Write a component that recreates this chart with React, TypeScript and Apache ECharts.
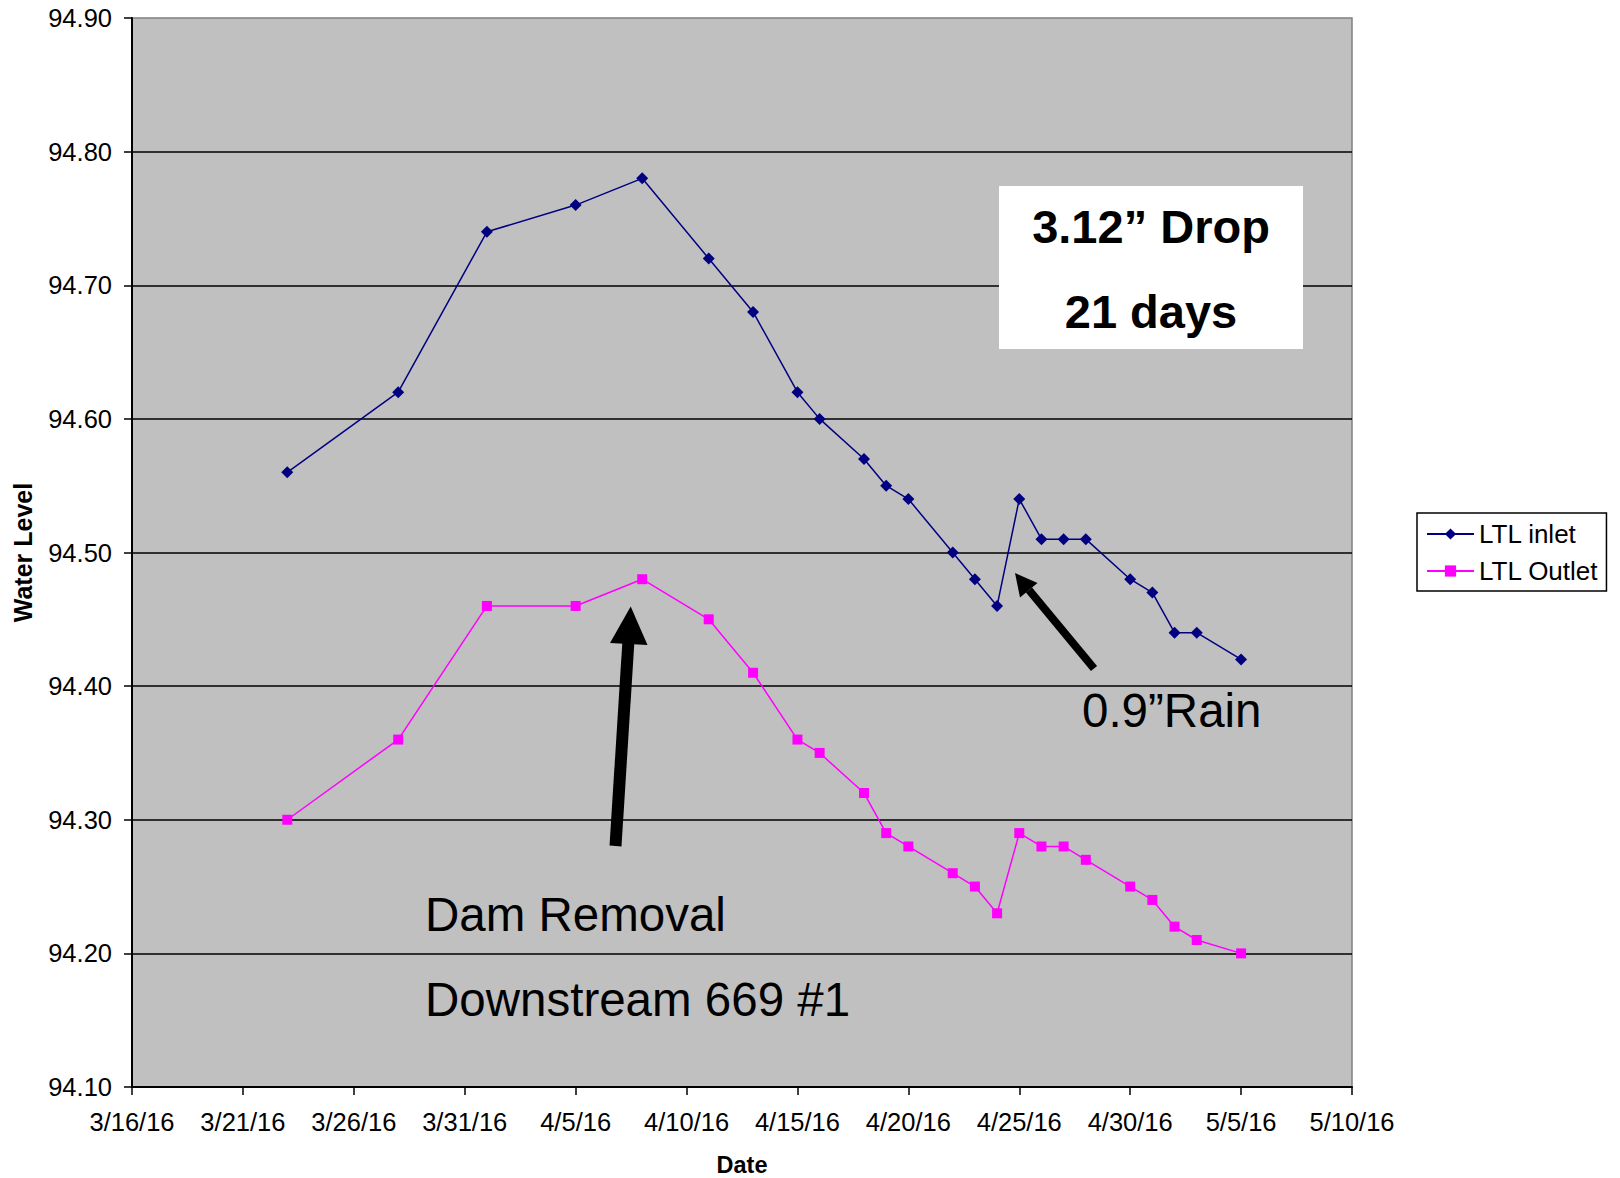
import React, { useEffect, useRef } from "react";
import * as echarts from "echarts";

const dates = [
  "3/23/16", "3/28/16", "4/1/16", "4/5/16", "4/8/16", "4/11/16", "4/13/16", "4/15/16",
  "4/16/16", "4/18/16", "4/19/16", "4/20/16", "4/22/16", "4/23/16", "4/24/16", "4/25/16",
  "4/26/16", "4/27/16", "4/28/16", "4/30/16", "5/1/16", "5/2/16", "5/3/16", "5/5/16",
];
const inletLevels = [
  94.56, 94.62, 94.74, 94.76, 94.78, 94.72, 94.68, 94.62, 94.6, 94.57, 94.55, 94.54,
  94.5, 94.48, 94.46, 94.54, 94.51, 94.51, 94.51, 94.48, 94.47, 94.44, 94.44, 94.42,
];
const outletLevels = [
  94.3, 94.36, 94.46, 94.46, 94.48, 94.45, 94.41, 94.36, 94.35, 94.32, 94.29, 94.28,
  94.26, 94.25, 94.23, 94.29, 94.28, 94.28, 94.27, 94.25, 94.24, 94.22, 94.21, 94.2,
];
const axisStartDate = "3/16/16";
const axisEndDate = "5/10/16";
const seriesNames = ["LTL inlet", "LTL Outlet"];

const DAY = 86400000;
function parseDate(s: string): number {
  const [m, d, y] = s.split("/").map(Number);
  return Date.UTC(2000 + y, m - 1, d);
}
const origin = parseDate(axisStartDate);
const dayOffset = (s: string) => Math.round((parseDate(s) - origin) / DAY);
const offsetLabel = (v: number) => {
  const dt = new Date(origin + v * DAY);
  return `${dt.getUTCMonth() + 1}/${dt.getUTCDate()}/${String(dt.getUTCFullYear()).slice(2)}`;
};

const FONT = "'Liberation Sans', Arial, sans-serif";

export default function App() {
  const ref = useRef<HTMLDivElement>(null);
  useEffect(() => {
    if (!ref.current) return;
    const chart = echarts.init(ref.current, null, { renderer: "svg" });
    const xs = dates.map(dayOffset);
    const annot = (text: string, x: number, y: number, bold: boolean, align: string) => ({
      type: "text",
      x,
      y,
      z: 11,
      style: {
        text,
        fontSize: bold ? 47 : 47.5,
        fontWeight: bold ? "bold" : "normal",
        fontFamily: FONT,
        fill: "#000",
        align,
        verticalAlign: "middle",
      },
    });
    chart.setOption({
      animation: false,
      backgroundColor: "#fff",
      textStyle: { fontFamily: FONT },
      grid: {
        left: 132,
        top: 18,
        right: 268,
        bottom: 91,
        containLabel: false,
        outerBoundsMode: "none",
        show: true,
        backgroundColor: "#C0C0C0",
        borderColor: "#808080",
        borderWidth: 1.5,
      },
      legend: {
        orient: "vertical",
        left: 1417,
        top: 513,
        padding: [7, 8, 6, 9],
        itemWidth: 47,
        itemHeight: 14,
        itemGap: 9,
        backgroundColor: "#fff",
        borderColor: "#000",
        borderWidth: 1.5,
        borderRadius: 0,
        textStyle: { fontSize: 26, color: "#000", fontFamily: FONT, lineHeight: 28 },
        data: seriesNames,
      },
      xAxis: {
        type: "value",
        min: 0,
        max: dayOffset(axisEndDate),
        interval: 5,
        name: "Date",
        nameLocation: "middle",
        nameGap: 66,
        nameTextStyle: { fontSize: 23.5, fontWeight: "bold", color: "#000", fontFamily: FONT },
        axisLine: { show: true, lineStyle: { color: "#000", width: 2 } },
        axisTick: { show: true, length: 8, lineStyle: { color: "#000", width: 1.5 } },
        axisLabel: {
          fontSize: 25.5,
          color: "#000",
          margin: 22,
          fontFamily: FONT,
          formatter: (v: number) => offsetLabel(v),
        },
        splitLine: { show: false },
      },
      yAxis: {
        type: "value",
        min: 94.1,
        max: 94.9,
        interval: 0.1,
        name: "Water Level",
        nameLocation: "middle",
        nameGap: 97,
        nameTextStyle: { fontSize: 25, fontWeight: "bold", color: "#000", fontFamily: FONT },
        axisLine: { show: true, lineStyle: { color: "#000", width: 2 } },
        axisTick: { show: true, length: 8, lineStyle: { color: "#000", width: 1.5 } },
        axisLabel: {
          fontSize: 25.5,
          color: "#000",
          margin: 20,
          fontFamily: FONT,
          formatter: (v: number) => v.toFixed(2),
        },
        splitLine: { show: true, showMaxLine: false, showMinLine: false, lineStyle: { color: "#000", width: 1.5 } },
      },
      series: [
        {
          name: seriesNames[0],
          type: "line",
          data: xs.map((x, i) => [x, inletLevels[i]]),
          symbol: "diamond",
          symbolSize: 12,
          lineStyle: { color: "#000080", width: 1.5 },
          itemStyle: { color: "#000080" },
        },
        {
          name: seriesNames[1],
          type: "line",
          data: xs.map((x, i) => [x, outletLevels[i]]),
          symbol: "rect",
          symbolSize: 10,
          lineStyle: { color: "#FF00FF", width: 1.5 },
          itemStyle: { color: "#FF00FF" },
        },
      ],
      graphic: [
        {
          type: "rect",
          shape: { x: 999, y: 186, width: 304, height: 163 },
          style: { fill: "#fff" },
          z: 10,
        },
        annot("3.12\u201D Drop", 1151, 226, true, "center"),
        annot("21 days", 1151, 311, true, "center"),
        {
          type: "line",
          z: 10,
          shape: { x1: 615.5, y1: 846, x2: 628.5, y2: 640 },
          style: { stroke: "#000", lineWidth: 12, lineCap: "butt" },
        },
        {
          type: "polygon",
          z: 10,
          shape: { points: [[630.7, 606.5], [610, 643], [647.5, 645]] },
          style: { fill: "#000" },
        },
        {
          type: "line",
          z: 10,
          shape: { x1: 1094, y1: 668.5, x2: 1029, y2: 590 },
          style: { stroke: "#000", lineWidth: 8, lineCap: "butt" },
        },
        {
          type: "polygon",
          z: 10,
          shape: { points: [[1015, 573], [1020, 597.5], [1037.5, 583]] },
          style: { fill: "#000" },
        },
        annot("0.9\u201DRain", 1082, 710, false, "left"),
        annot("Dam Removal", 425, 914, false, "left"),
        annot("Downstream 669 #1", 425, 999.5, false, "left"),
      ],
    });
    return () => chart.dispose();
  }, []);
  return (
    <div
      ref={ref}
      style={{ position: "fixed", left: 0, top: 0, width: 1620, height: 1178 }}
    />
  );
}
